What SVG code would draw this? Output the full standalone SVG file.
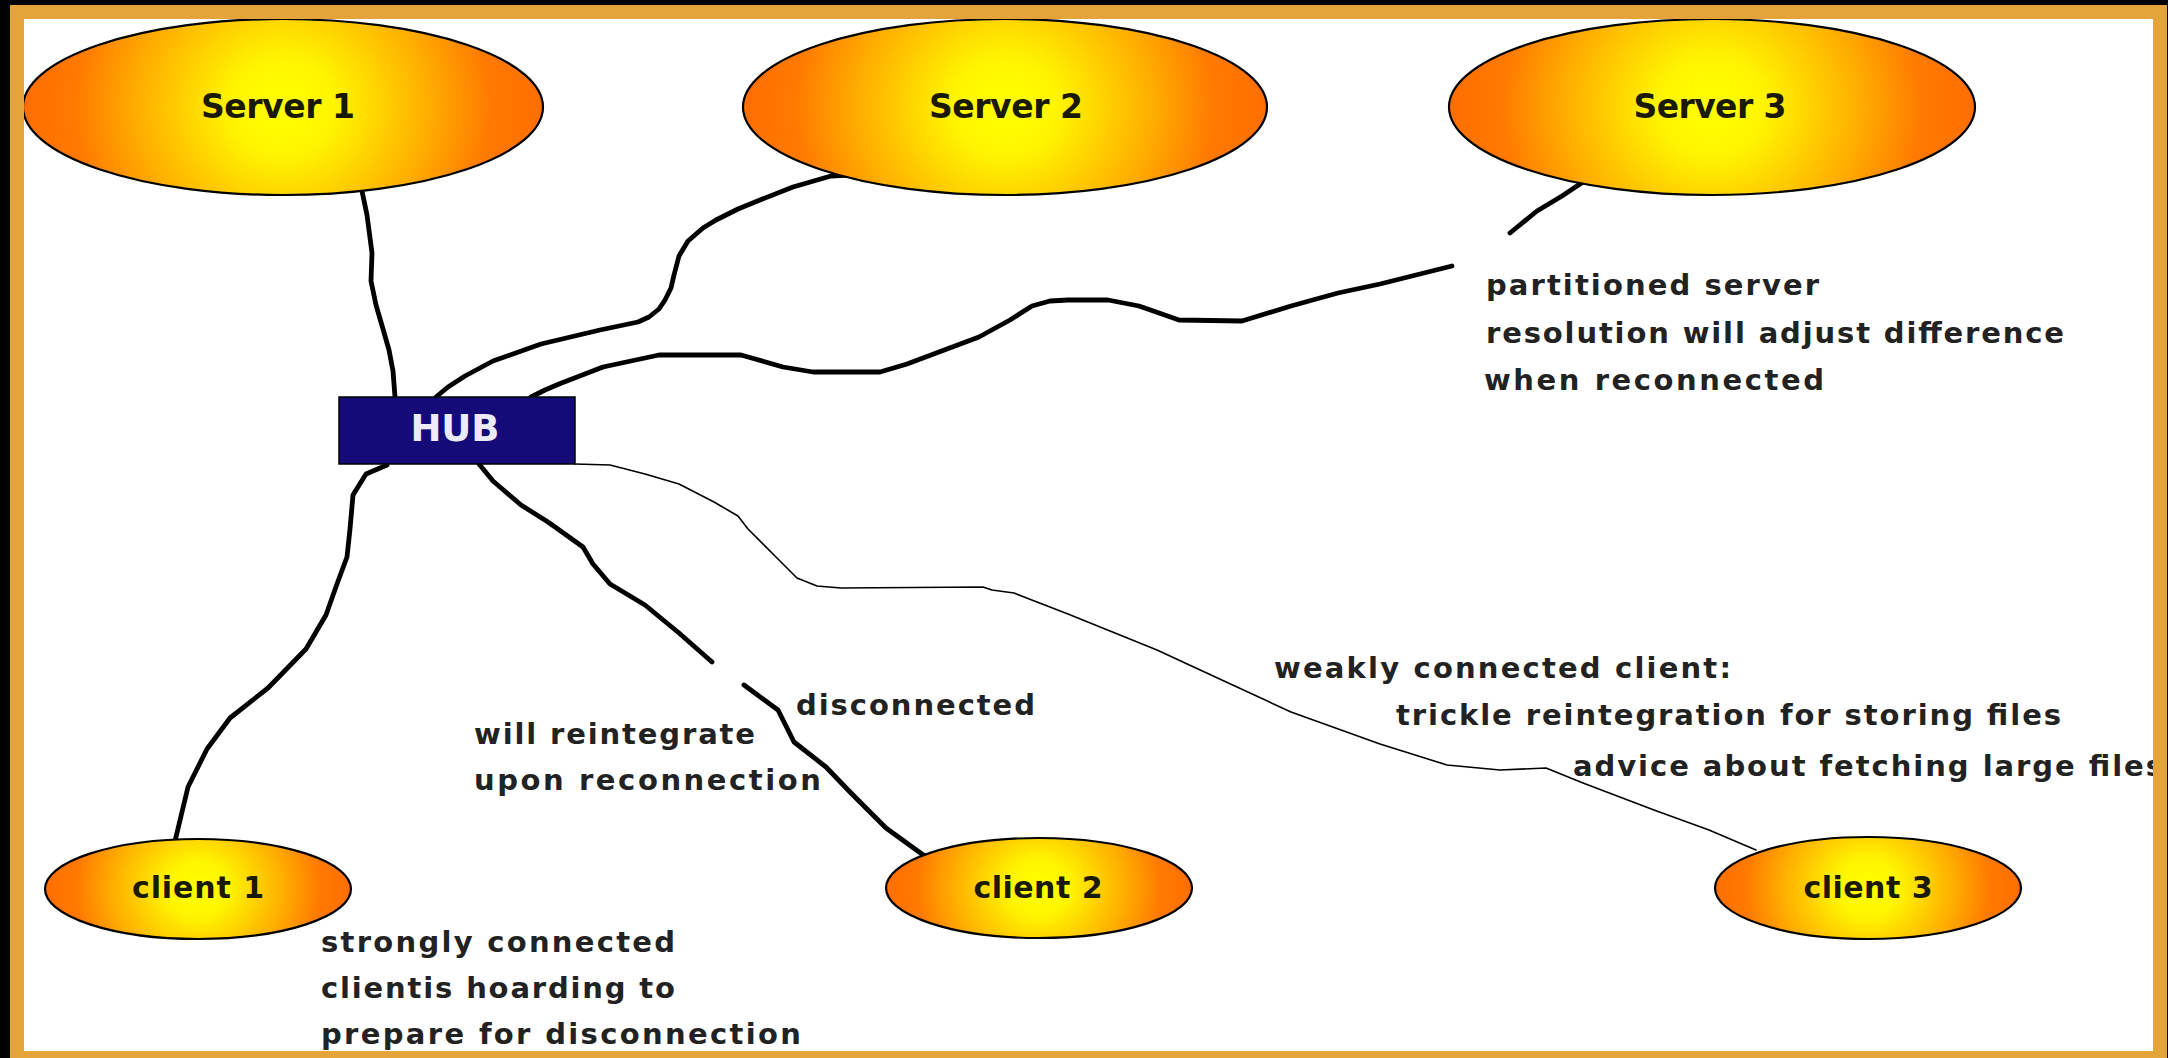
<svg xmlns="http://www.w3.org/2000/svg" width="2168" height="1058" viewBox="0 0 2168 1058">
  <defs>
    <radialGradient id="glow" cx="0.5" cy="0.5" r="0.5" gradientTransform="translate(0.5 0.5) scale(1 2.8) translate(-0.5 -0.5)">
      <stop offset="0" stop-color="#ffff00"/>
      <stop offset="0.2" stop-color="#fff500"/>
      <stop offset="0.55" stop-color="#ffb000"/>
      <stop offset="0.8" stop-color="#ff7a00"/>
      <stop offset="1" stop-color="#ff6e00"/>
    </radialGradient>
    <style>
      .node { fill: url(#glow); stroke: #000; stroke-width: 2.2; }
      .nlabel { font-family: "DejaVu Sans", "Liberation Sans", sans-serif; font-weight: 700; font-size: 33px; fill: #1a1a00; text-anchor: middle; }
      .clabel { font-family: "DejaVu Sans", "Liberation Sans", sans-serif; font-weight: 700; font-size: 30px; fill: #1a1a00; text-anchor: middle; }
      .note { font-family: "DejaVu Sans", "Liberation Sans", sans-serif; font-weight: 700; font-size: 29px; fill: #222; }
      .thick { fill: none; stroke: #000; stroke-width: 4.8; stroke-linejoin: round; stroke-linecap: round; }
      .thin { fill: none; stroke: #000; stroke-width: 1.6; stroke-linejoin: round; stroke-linecap: round; }
    </style>
  </defs>

  <rect x="0" y="0" width="2168" height="1058" fill="#000"/>
  <rect x="24" y="19" width="2129" height="1032" fill="#fff"/>

  <g id="connectors">
    <path class="thick" d="M362 191 L367 215 L372 253 L371 281 L376 305 L383 329 L389 350 L393 371 L395 397"/>
    <path class="thick" d="M850 175 L831 176 L793 187 L760 200 L738 209 L716 220 L703 228 L688 241 L679 256 L674 275 L671 288 L665 300 L659 309 L649 317 L638 322 L600 330 L541 344 L493 361 L465 376 L448 387 L436 397"/>
    <path class="thick" d="M531 397 L545 390 L559 384 L603 367 L659 355 L741 355 L783 367 L813 372 L880 372 L907 364 L979 337 L1010 320 L1032 306 L1050 301 L1068 300 L1108 300 L1139 306 L1179 320 L1242 321 L1291 306 L1338 293 L1380 284 L1452 266"/>
    <path class="thick" d="M1510 233 L1537 211 L1562 196 L1583 182"/>
    <path class="thick" d="M387 465 L366 474 L353 495 L350 529 L347 557 L337 584 L326 615 L306 649 L268 688 L230 718 L207 749 L188 787 L176 837 L175 841"/>
    <path class="thick" d="M479 464 L493 481 L521 505 L548 522 L583 547 L593 564 L610 584 L645 605 L679 633 L712 662"/>
    <path class="thick" d="M744 685 L778 710 L794 742 L826 767 L850 792 L886 828 L926 857"/>
    <path class="thin" d="M575 464 L610 465 L645 474 L679 484 L714 502 L738 516 L748 529 L776 557 L797 578 L817 586 L841 588 L983 587 L992 590 L1014 593 L1068 614 L1157 650 L1224 681 L1291 712 L1380 744 L1447 765 L1500 770 L1546 768 L1583 783 L1654 810 L1709 830 L1756 850"/>
  </g>

  <g id="node-server1">
    <ellipse class="node" cx="283" cy="107" rx="260" ry="88"/>
    <text class="nlabel" x="278" y="118" textLength="154">Server 1</text>
  </g>
  <g id="node-server2">
    <ellipse class="node" cx="1005" cy="107" rx="262" ry="88"/>
    <text class="nlabel" x="1006" y="118" textLength="154">Server 2</text>
  </g>
  <g id="node-server3">
    <ellipse class="node" cx="1712" cy="107" rx="263" ry="88"/>
    <text class="nlabel" x="1710" y="118" textLength="153">Server 3</text>
  </g>
  <g id="node-hub">
    <rect x="339" y="397" width="236" height="67" fill="#140a78" stroke="#000" stroke-width="1.5"/>
    <text x="455" y="441" font-family="DejaVu Sans, Liberation Sans, sans-serif" font-weight="700" font-size="37" fill="#ececf8" text-anchor="middle" textLength="89">HUB</text>
  </g>
  <g id="node-client1">
    <ellipse class="node" cx="198" cy="889" rx="153" ry="50"/>
    <text class="clabel" x="198" y="898" textLength="132">client 1</text>
  </g>
  <g id="node-client2">
    <ellipse class="node" cx="1039" cy="888" rx="153" ry="50"/>
    <text class="clabel" x="1038" y="898" textLength="129">client 2</text>
  </g>
  <g id="node-client3">
    <ellipse class="node" cx="1868" cy="888" rx="153" ry="51"/>
    <text class="clabel" x="1868" y="898" textLength="129">client 3</text>
  </g>

  <g id="labels">
    <text class="note" x="1486" y="295" textLength="333">partitioned server</text>
    <text class="note" x="1486" y="343" textLength="578">resolution will adjust difference</text>
    <text class="note" x="1484" y="390" textLength="340">when reconnected</text>
    <text class="note" x="1274" y="678" textLength="457">weakly connected client:</text>
    <text class="note" x="1396" y="725" textLength="665">trickle reintegration for storing files</text>
    <text class="note" x="1573" y="776" textLength="590">advice about fetching large files</text>
    <text class="note" x="796" y="715" textLength="239">disconnected</text>
    <text class="note" x="474" y="744" textLength="281">will reintegrate</text>
    <text class="note" x="474" y="790" textLength="347">upon reconnection</text>
    <text class="note" x="321" y="952" textLength="354">strongly connected</text>
    <text class="note" x="321" y="998" textLength="354">clientis hoarding to</text>
    <text class="note" x="321" y="1044" textLength="480">prepare for disconnection</text>
  </g>

  <path fill="#e4a43a" fill-rule="evenodd" d="M10 5 H2167 V1058 H10 Z M24 19 V1051 H2153 V19 Z"/>
</svg>
